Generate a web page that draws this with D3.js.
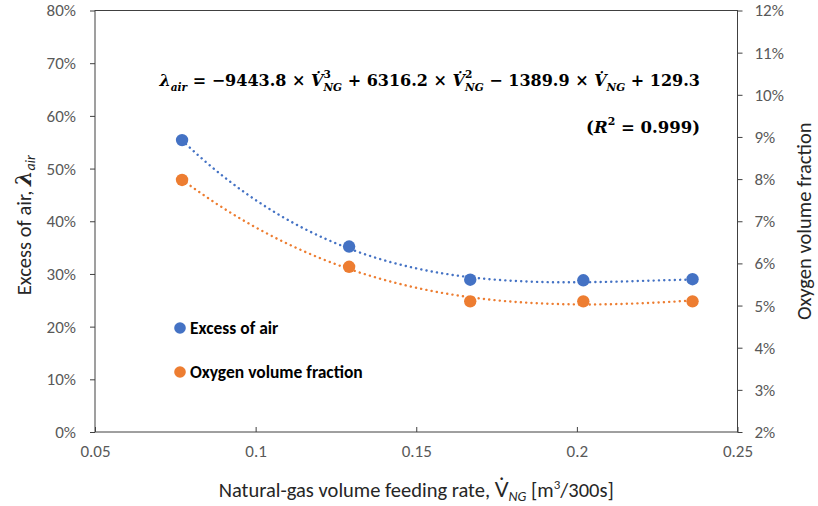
<!DOCTYPE html>
<html>
<head>
<meta charset="utf-8">
<script src="https://cdn.jsdelivr.net/npm/d3@7"></script>
<style>
  html, body { margin: 0; padding: 0; background: #fff; }
  svg { display: block; }
</style>
</head>
<body>
<svg id="chart" width="818" height="506"></svg>
<script>
// Natural-gas feeding rate [m3/300s]
const feedRate = [0.0771, 0.1291, 0.1668, 0.2020, 0.2360];
// Excess of air, % (left axis)
const excessAir = [55.4, 35.2, 28.9, 28.8, 29.0];
// Oxygen volume fraction, % (right axis)
const oxygenFraction = [7.98, 5.92, 5.10, 5.10, 5.10];
// Cubic trendline for the excess of air: a*V^3 + b*V^2 + c*V + d
const airFit = [-9443.8, 6316.2, -1389.9, 129.3];
const airR2 = "0.999";

const xTicks = [0.05, 0.1, 0.15, 0.2, 0.25];
const leftTicks = [0, 10, 20, 30, 40, 50, 60, 70, 80];
const rightTicks = [2, 3, 4, 5, 6, 7, 8, 9, 10, 11, 12];

const seriesNames = ["Excess of air", "Oxygen volume fraction"];
const colors = ["#4472C4", "#ED7D31"];

const plot = { left: 95, right: 737.5, top: 10.5, bottom: 432 };
const FONT = "Carlito, Lato, 'Open Sans', sans-serif";
const MATH = "'DejaVu Serif', 'Liberation Serif', serif";

const svg = d3.select("#chart");

const x = d3.scaleLinear().domain([0.05, 0.25]).range([plot.left, plot.right]);
const yL = d3.scaleLinear().domain([0, 80]).range([plot.bottom, plot.top]);
const yR = d3.scaleLinear().domain([2, 12]).range([plot.bottom, plot.top]);

// Least-squares cubic fit (normal equations, Gaussian elimination)
function cubicFit(xs, ys) {
  const n = 4;
  const A = Array.from({ length: n }, () => new Array(n + 1).fill(0));
  xs.forEach((xv, k) => {
    const p = [xv ** 3, xv ** 2, xv, 1];
    for (let i = 0; i < n; i++) {
      for (let j = 0; j < n; j++) A[i][j] += p[i] * p[j];
      A[i][n] += p[i] * ys[k];
    }
  });
  for (let c = 0; c < n; c++) {
    let piv = c;
    for (let r = c + 1; r < n; r++) if (Math.abs(A[r][c]) > Math.abs(A[piv][c])) piv = r;
    [A[c], A[piv]] = [A[piv], A[c]];
    for (let r = 0; r < n; r++) {
      if (r === c) continue;
      const f = A[r][c] / A[c][c];
      for (let k = c; k <= n; k++) A[r][k] -= f * A[c][k];
    }
  }
  return A.map((row, i) => row[n] / row[i]);
}
const poly = (c, v) => c[0] * v ** 3 + c[1] * v ** 2 + c[2] * v + c[3];
const o2Fit = cubicFit(feedRate, oxygenFraction);

// Dotted polynomial trendlines between the first and last sample
const xs = d3.range(0, 121).map(i => feedRate[0] + (feedRate[4] - feedRate[0]) * i / 120);
const line = d3.line().x(d => d[0]).y(d => d[1]);
[[airFit, yL], [o2Fit, yR]].forEach(([coef, yScale], i) => {
  svg.append("path")
    .attr("d", line(xs.map(v => [x(v), yScale(poly(coef, v))])))
    .attr("fill", "none").attr("stroke", colors[i]).attr("stroke-width", 2.4)
    .attr("stroke-linecap", "round").attr("stroke-dasharray", "0.1,5.2");
});

// Axes
const axisColor = "#404040";
const labelColor = "#595959";
function styleAxis(g) {
  g.select(".domain").remove();
  g.selectAll(".tick line").attr("stroke", axisColor);
  g.selectAll(".tick text").attr("fill", labelColor)
    .attr("font-family", FONT).attr("font-size", 17);
}
svg.append("g").attr("transform", `translate(${plot.left},0)`)
  .call(d3.axisLeft(yL).tickValues(leftTicks).tickFormat(d => d + "%").tickSize(5).tickPadding(14))
  .call(styleAxis);
svg.append("g").attr("transform", `translate(${plot.right},0)`)
  .call(d3.axisRight(yR).tickValues(rightTicks).tickFormat(d => d + "%").tickSize(5).tickPadding(12))
  .call(styleAxis);
svg.append("g").attr("transform", `translate(0,${plot.bottom})`)
  .call(d3.axisBottom(x).tickValues(xTicks).tickFormat(d3.format("")).tickSize(-5).tickPadding(13))
  .call(styleAxis);

// Plot frame
svg.append("rect")
  .attr("x", plot.left).attr("y", plot.top)
  .attr("width", plot.right - plot.left).attr("height", plot.bottom - plot.top)
  .attr("fill", "none").attr("stroke", axisColor).attr("stroke-width", 1);

// Markers
svg.append("g").selectAll("circle").data(feedRate).join("circle")
  .attr("cx", d => x(d)).attr("cy", (d, i) => yL(excessAir[i])).attr("r", 6.2)
  .attr("fill", colors[0]);
svg.append("g").selectAll("circle").data(feedRate).join("circle")
  .attr("cx", d => x(d)).attr("cy", (d, i) => yR(oxygenFraction[i])).attr("r", 6.2)
  .attr("fill", colors[1]);

// Legend
const legend = svg.append("g");
[328, 372].forEach((ly, i) => {
  legend.append("circle").attr("cx", 180).attr("cy", ly).attr("r", 5.8).attr("fill", colors[i]);
  legend.append("text").attr("x", 190).attr("y", ly + 6)
    .attr("font-family", FONT).attr("font-size", 17.5).attr("font-weight", "bold")
    .attr("fill", "#000").text(seriesNames[i]);
});

// Axis titles
const titleSize = 20.5;
const xTitle = svg.append("text").attr("x", (plot.left + plot.right) / 2).attr("y", 497)
  .attr("text-anchor", "middle").attr("font-family", FONT).attr("font-size", titleSize).attr("fill", "#262626");
xTitle.append("tspan").text("Natural-gas volume feeding rate, V\u0307");
xTitle.append("tspan").attr("font-style", "italic").attr("font-size", 14).attr("dy", 4).text("NG");
xTitle.append("tspan").attr("dy", -4).text(" [m");
xTitle.append("tspan").attr("font-size", 13).attr("dy", -8).text("3");
xTitle.append("tspan").attr("dy", 8).text("/300s]");

const yTitle = svg.append("text")
  .attr("transform", `translate(31,${(plot.top + plot.bottom) / 2 + 4}) rotate(-90)`)
  .attr("text-anchor", "middle").attr("font-family", FONT).attr("font-size", titleSize).attr("fill", "#262626");
yTitle.append("tspan").text("Excess of air, ");
yTitle.append("tspan").attr("font-family", MATH).attr("font-weight", "bold").attr("font-style", "italic")
  .attr("font-size", 22).text("\u03bb");
yTitle.append("tspan").attr("font-style", "italic").attr("font-size", 14).attr("dy", 4).text("air");

svg.append("text")
  .attr("transform", `translate(811,${(plot.top + plot.bottom) / 2}) rotate(-90)`)
  .attr("text-anchor", "middle").attr("font-family", FONT).attr("font-size", titleSize).attr("fill", "#262626")
  .text("Oxygen volume fraction");

// Trendline equation, laid out piece by piece so scripts stack cleanly
function mathLine(parts, right, baseline, targetWidth, baseSize) {
  const g = svg.append("g");
  function build(size) {
    g.selectAll("*").remove();
    let cx = 0, stackStart = null, stackMax = 0;
    parts.forEach(p => {
      const fs = size * (p.scale || 1);
      if (p.stack === "start") { stackStart = cx; stackMax = 0; }
      const px = p.stack ? stackStart : cx;
      const t = g.append("text").attr("x", px).attr("y", baseline + (p.shift || 0) * size)
        .attr("xml:space", "preserve").style("white-space", "pre")
        .attr("font-family", MATH).attr("font-weight", "bold").attr("font-size", fs)
        .attr("font-style", p.it ? "italic" : "normal").attr("fill", "#000").text(p.t);
      const w = t.node().getComputedTextLength();
      if (p.stack) {
        stackMax = Math.max(stackMax, w);
        if (p.stack === "end") cx = stackStart + stackMax;
      } else {
        cx += w;
      }
    });
    return cx;
  }
  let w = build(baseSize);
  if (targetWidth) w = build(baseSize * targetWidth / w);
  g.attr("transform", `translate(${right - w},0)`);
}
const fmt = v => Math.abs(v).toFixed(1);
const sub = t => ({ t, it: true, scale: 0.66, shift: 0.32 });
const sup = t => ({ t, scale: 0.66, shift: -0.48 });
mathLine([
  { t: "\u03bb", it: true }, sub("air"),
  { t: " = \u2212" + fmt(airFit[0]) + " \u00d7 " },
  { t: "V\u0307", it: true },
  { ...sup("3"), stack: "start" }, { ...sub("NG"), stack: "end" },
  { t: " + " + fmt(airFit[1]) + " \u00d7 " },
  { t: "V\u0307", it: true },
  { ...sup("2"), stack: "start" }, { ...sub("NG"), stack: "end" },
  { t: " \u2212 " + fmt(airFit[2]) + " \u00d7 " },
  { t: "V\u0307", it: true }, sub("NG"),
  { t: " + " + fmt(airFit[3]) }
], 700, 86, 541, 16);

mathLine([
  { t: "(" }, { t: "R", it: true }, sup("2"),
  { t: " = " + airR2 + ")" }
], 700, 133, null, 16.5);
</script>
</body>
</html>
